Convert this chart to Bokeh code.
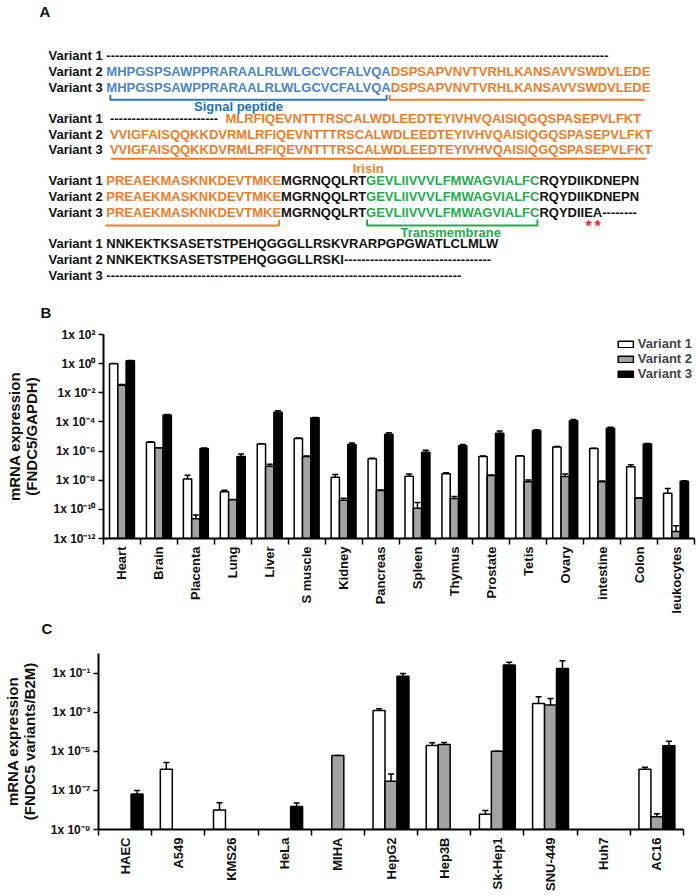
import math
from bokeh.plotting import figure
from bokeh.layouts import column
from bokeh.models import (Range1d, FixedTicker, ColumnDataSource, Whisker, TeeHead,
                          Legend, LegendItem)
from bokeh.core.properties import value
from bokeh.embed import file_html
from bokeh.resources import INLINE

FONT = "Liberation Sans"
BLACK = "#111111"
BLUE_TXT = "#4c86c8"
BLUE = "#2a78cc"
ORANGE = "#ee7d2b"
GREEN = "#1fae4b"
GRAY = "#a2a2a2"

# ---------------- Panel A data (sequence alignment) ----------------
variants = ["Variant 1", "Variant 2", "Variant 3"]
seq_signal = "MHPGSPSAWPPRARAALRLWLGCVCFALVQA"
seq_nterm = "DSPSAPVNVTVRHLKANSAVVSWDVLEDE"
seq_irisin_a = "VVIGFAISQQKKDVR"
seq_irisin_b = "MLRFIQEVNTTTRSCALWDLEEDTEYIVHVQAISIQGQSPASEPVLFKT"
seq_irisin_c = "PREAEKMASKNKDEVTMKE"
seq_link = "MGRNQQLRT"
seq_tm = "GEVLIIVVVLFMWAGVIALFC"
seq_ct12 = "RQYDIIKDNEPN"
seq_ct3 = "RQYDIIEA"
seq_tail1 = "NNKEKTKSASETSTPEHQGGGLLRSKVRARPGPGWATLCLMLW"
seq_tail2 = "NNKEKTKSASETSTPEHQGGGLLRSKI"
gap_b1_v1 = 116
gap_b2_v1 = 25
gap_b3_v3 = 8
gap_b4_v2 = 34
gap_b4_v3 = 82
domain_labels = ["Signal peptide", "Irisin", "Transmembrane"]

# ---------------- Panel B data (tissues) ----------------
tissues = ["Heart", "Brain", "Placenta", "Lung", "Liver", "S muscle", "Kidney", "Pancreas",
           "Spleen", "Thymus", "Prostate", "Tetis", "Ovary", "intestine", "Colon", "leukocytes"]
b_v1 = [0.98, 4.0e-6, 1.2e-8, 1.6e-9, 3.0e-6, 7.4e-6, 1.6e-8, 3.0e-7,
        1.9e-8, 2.8e-8, 4.3e-7, 4.5e-7, 1.9e-6, 1.5e-6, 8.5e-8, 1.3e-9]
b_v2 = [0.033, 1.6e-6, 2.3e-11, 4.5e-10, 9.0e-8, 4.3e-7, 4.2e-10, 2.0e-9,
        1.2e-10, 5.5e-10, 2.1e-8, 8.0e-9, 1.8e-8, 8.0e-9, 5.8e-10, 3.0e-12]
b_v3 = [1.55, 3.0e-4, 1.5e-6, 4.3e-7, 4.7e-4, 1.9e-4, 2.8e-6, 1.4e-5,
        8.3e-7, 2.3e-6, 1.7e-5, 2.6e-5, 1.2e-4, 3.7e-5, 3.0e-6, 8.5e-9]
b_e1 = [0.046, 2.9e-7, 1.0e-8, 4.6e-10, 1.4e-7, 3.5e-7, 8.2e-9, 2.2e-8,
        7.2e-9, 4.9e-9, 2.0e-8, 3.2e-8, 1.4e-7, 7.0e-8, 3.2e-8, 1.4e-9]
b_e2 = [4.0e-3, 1.2e-7, 1.8e-11, 3.2e-11, 3.4e-8, 2.0e-8, 1.6e-10, 1.4e-10,
        1.8e-10, 2.1e-10, 1.5e-9, 2.3e-9, 9.2e-9, 9.8e-10, 4.2e-11, 4.5e-12]
b_e3 = [0.11, 2.2e-5, 1.1e-7, 1.9e-7, 1.1e-4, 1.4e-5, 8.1e-7, 4.1e-6,
        3.2e-7, 5.3e-7, 6.5e-6, 3.2e-6, 2.8e-5, 6.5e-6, 3.7e-7, 6.1e-10]
b_ticks = [1e2, 1e0, 1e-2, 1e-4, 1e-6, 1e-8, 1e-10, 1e-12]
b_ylabel = "mRNA expression\n(FNDC5/GAPDH)"

# ---------------- Panel C data (cell lines) ----------------
cells = ["HAEC", "A549", "KMS26", "HeLa", "MIHA", "HepG2", "Hep3B", "Sk-Hep1", "SNU-449", "Huh7", "AC16"]
c_v1 = [None, 1.2e-6, 1.0e-8, None, None, 1.2e-3, 1.95e-5, 6.0e-9, 2.8e-3, None, 1.2e-6]
c_v2 = [None, None, None, None, 6.0e-6, 2.9e-7, 2.2e-5, 1.0e-5, 2.3e-3, None, 4.5e-9]
c_v3 = [6.6e-8, None, None, 1.5e-8, None, 0.068, None, 0.26, 0.17, None, 1.9e-5]
c_e1 = [0, 1.5e-6, 1.3e-8, 0, 0, 3.1e-4, 8.0e-6, 3.3e-9, 3.3e-3, 0, 3.1e-7]
c_e2 = [0, 0, 0, 0, 1.0e-7, 3.9e-7, 5.7e-6, 1.0e-7, 2.7e-3, 0, 1.9e-9]
c_e3 = [3.4e-8, 0, 0, 7.7e-9, 0, 0.026, 0, 0.1, 0.25, 0, 1.4e-5]
c_ticks = [1e-1, 1e-3, 1e-5, 1e-7, 1e-9]
c_ylabel = "mRNA expression\n(FNDC5 variants/B2M)"

# ---------------- helpers ----------------
ADV = {"A": 722, "B": 722, "C": 722, "D": 722, "E": 667, "F": 611, "G": 778, "H": 722,
       "I": 278, "J": 556, "K": 722, "L": 611, "M": 833, "N": 722, "O": 778, "P": 667,
       "Q": 778, "R": 722, "S": 667, "T": 611, "U": 722, "V": 667, "W": 944, "X": 667,
       "Y": 667, "Z": 611, "-": 333, " ": 278, "a": 556, "r": 389, "i": 278, "n": 611,
       "t": 333, "1": 556, "2": 556, "3": 556}
# approximate kerning pairs of Arial/Liberation Sans Bold (1/1000 em)
KERN = {"AT": -74, "AV": -74, "AW": -55, "AY": -74, "FA": -55, "LT": -74, "LV": -74,
        "LW": -55, "LY": -74, "PA": -74, "RT": -18, "RV": -37, "RW": -37, "RY": -37,
        "TA": -74, "VA": -74, "WA": -55, "YA": -74, "Va": -55}
SEQ_SIZE = 13
TXT_DY = -5  # text baseline correction for the svg text box


def tw(s, size=SEQ_SIZE):
    units = sum(ADV.get(ch, 600) for ch in s)
    units += sum(KERN.get(s[i:i + 2], 0) for i in range(len(s) - 1))
    return units * size / 1000.0


SUP = str.maketrans("0123456789-", "⁰¹²³⁴⁵⁶⁷⁸⁹⁻")


def sci(v):
    e = int(round(math.log10(v)))
    return "1x 10" + str(e).translate(SUP)


def no_align(p):
    if "frame_align" in p.properties():
        p.frame_align = False


def blank_fig(height, y_top):
    p = figure(width=697, height=height, x_range=Range1d(0, 697),
               y_range=Range1d(y_top + height, y_top), output_backend="svg",
               toolbar_location=None, x_axis_location=None, y_axis_location=None,
               min_border=0, min_border_left=0, min_border_right=0, min_border_top=0,
               min_border_bottom=0, outline_line_color=None)
    no_align(p)
    p.xgrid.visible = False
    p.ygrid.visible = False
    return p


# ---------------- Panel A ----------------
blocks = [
    [[("-" * gap_b1_v1, BLACK)],
     [(seq_signal, BLUE_TXT), (seq_nterm, ORANGE)],
     [(seq_signal, BLUE_TXT), (seq_nterm, ORANGE)]],
    [[("-" * gap_b2_v1 + "  ", BLACK), (seq_irisin_b, ORANGE)],
     [(seq_irisin_a + seq_irisin_b, ORANGE)],
     [(seq_irisin_a + seq_irisin_b, ORANGE)]],
    [[(seq_irisin_c, ORANGE), (seq_link, BLACK), (seq_tm, GREEN), (seq_ct12, BLACK)],
     [(seq_irisin_c, ORANGE), (seq_link, BLACK), (seq_tm, GREEN), (seq_ct12, BLACK)],
     [(seq_irisin_c, ORANGE), (seq_link, BLACK), (seq_tm, GREEN), (seq_ct3, BLACK),
      ("-" * gap_b3_v3, BLACK)]],
    [[(seq_tail1, BLACK)],
     [(seq_tail2, BLACK), ("-" * gap_b4_v2, BLACK)],
     [("-" * gap_b4_v3, BLACK)]],
]
block_baselines = [[60, 76, 91.7], [123.3, 139, 154.3], [185, 200.7, 216.7], [247.7, 264, 280]]
block_sep = [" ", "  ", " ", " "]
LABEL_X = 48

tx, ty, tt, tc = [], [], [], []
extents = []
for b, rows in enumerate(blocks):
    ext_b = []
    for r, segs in enumerate(rows):
        y = block_baselines[b][r] + TXT_DY
        lab = variants[r] + block_sep[b]
        tx.append(LABEL_X); ty.append(y); tt.append(lab); tc.append(BLACK)
        x = LABEL_X + tw(lab)
        ext_r = []
        for s, col in segs:
            tx.append(x); ty.append(y); tt.append(s); tc.append(col)
            ext_r.append((x, x + tw(s)))
            x += tw(s)
        ext_b.append(ext_r)
    extents.append(ext_b)

A_H = 287
pa = blank_fig(A_H, 0)
pa.text(x="x", y="y", text="text", text_color="color",
        source=ColumnDataSource(dict(x=tx, y=ty, text=tt, color=tc)),
        text_font=value(FONT), text_font_style="bold", text_font_size="13px",
        text_baseline="alphabetic", text_align="left")

# brackets
(s0, s1), (n0, n1) = extents[0][2]
(i0, i1), = extents[1][2]
(c0, c1), _, (g0, g1), _, _ = extents[2][2]
bx = [[s0 + 4, s0 + 4, s1 - 4, s1 - 4],
      [n0 - 1, n0 - 1, n1 - 6],
      [i0 + 1, i1 - 6],
      [c0 - 1, c1 - 2, c1 - 2],
      [g0 + 1, g0 + 1, g1 - 2, g1 - 2]]
by = [[94.5, 99.3, 99.3, 94.5],
      [94.5, 99.3, 99.3],
      [158.3, 158.3],
      [225, 225, 219.5],
      [219, 225, 225, 219]]
bc = [BLUE, ORANGE, ORANGE, ORANGE, GREEN]
pa.multi_line(xs=bx, ys=by, line_color=bc, line_width=2)

pa.text(x=[(s0 + s1) / 2 - 10, 367.7, (g0 + g1) / 2 - 2],
        y=[110.5 + TXT_DY, 172.5 + TXT_DY, 237 + TXT_DY],
        text=domain_labels, text_color=["#2271c3", ORANGE, GREEN],
        text_font=value(FONT), text_font_style="bold", text_font_size="13px",
        text_baseline="alphabetic", text_align="center")

# red stars under E and A
ct3_x = extents[2][2][3][0]
star_x = [ct3_x + tw("RQYDII") + tw("E") / 2, ct3_x + tw("RQYDIIE") + tw("A") / 2]
pa.scatter(x=star_x, y=[222.7, 222.7], marker="star", size=6, color="#ff2020")

pa.text(x=[39], y=[16 + TXT_DY], text=["A"], text_font=value(FONT), text_font_style="bold",
        text_font_size="15px", text_baseline="alphabetic", text_color=BLACK)


# ---------------- bar panels ----------------
def bar_panel(cats, series, errors, ticks, y_lo, y_hi, height, borders, ylabel, cat_size):
    n = len(cats)
    bl, br, bt, bb = borders
    p = figure(width=697, height=height, x_range=Range1d(0, n), y_range=Range1d(y_lo, y_hi),
               y_axis_type="log", output_backend="svg", toolbar_location=None,
               min_border_left=bl, min_border_right=br, min_border_top=bt, min_border_bottom=bb,
               outline_line_color=None)
    no_align(p)
    p.xgrid.visible = False
    p.ygrid.visible = False
    fills = ["white", GRAY, "black"]
    offs = [-0.225, 0.0, 0.225]
    rends = []
    for k in range(3):
        xs, tops, ups = [], [], []
        for i, (v, e) in enumerate(zip(series[k], errors[k])):
            if v is None:
                continue
            xs.append(i + 0.5 + offs[k]); tops.append(v); ups.append(v + e)
        src = ColumnDataSource(dict(x=xs, top=tops, up=ups))
        p.add_layout(Whisker(source=src, base="x", lower="top", upper="up", dimension="height",
                             line_color="black", line_width=1.5,
                             upper_head=TeeHead(size=6, line_color="black", line_width=1.5),
                             lower_head=None))
        r = p.vbar(x="x", top="top", bottom=y_lo, width=0.225, source=src,
                   fill_color=fills[k], line_color="black", line_width=1.5)
        rends.append(r)

    xa = p.xaxis[0]
    xa.ticker = FixedTicker(ticks=[i + 0.5 for i in range(n)], minor_ticks=list(range(n + 1)))
    xa.major_label_overrides = {i + 0.5: c for i, c in enumerate(cats)}
    xa.major_label_orientation = math.pi / 2
    xa.major_tick_line_color = None
    xa.major_tick_out = 6
    xa.major_tick_in = 0
    xa.minor_tick_line_color = "black"
    xa.minor_tick_line_width = 1.5
    xa.minor_tick_out = 6
    xa.minor_tick_in = 0
    xa.axis_line_width = 2
    xa.axis_line_color = "black"
    xa.major_label_standoff = 2
    xa.major_label_text_font = FONT
    xa.major_label_text_font_style = "bold"
    xa.major_label_text_font_size = cat_size
    xa.major_label_text_color = BLACK

    ya = p.yaxis[0]
    ya.ticker = FixedTicker(ticks=ticks, minor_ticks=[])
    ya.major_label_overrides = {t: sci(t) for t in ticks}
    ya.minor_tick_line_color = None
    ya.major_tick_out = 5
    ya.major_tick_in = 0
    ya.major_tick_line_width = 1.5
    ya.axis_line_width = 2
    ya.axis_line_color = "black"
    ya.major_label_standoff = 3
    ya.major_label_text_font = FONT
    ya.major_label_text_font_style = "bold"
    ya.major_label_text_font_size = "12px"
    ya.major_label_text_color = BLACK
    ya.axis_label = ylabel
    ya.axis_label_text_font = FONT
    ya.axis_label_text_font_style = "bold"
    ya.axis_label_text_font_size = "15px"
    ya.axis_label_text_line_height = 1.0
    ya.axis_label_standoff = 10
    ya.axis_label_text_color = BLACK
    return p, rends


def style_letter(p, letter, dx, standoff):
    p.title.text = letter
    p.title.align = "left"
    p.title.offset = dx
    p.title.standoff = standoff
    p.title.text_font = FONT
    p.title.text_font_style = "bold"
    p.title.text_font_size = "15px"
    p.title.text_color = BLACK


# B: page y 287 .. 616
pb, rb = bar_panel(tissues, [b_v1, b_v2, b_v3], [b_e1, b_e2, b_e3], b_ticks, 1e-12, 1e2,
                   329, (103, 3, 47, 75), b_ylabel, "13px")
style_letter(pb, "B", -63, 28)
legend = Legend(items=[LegendItem(label=variants[k], renderers=[rb[k]]) for k in range(3)],
                location="top_right", orientation="vertical", padding=0, margin=2, spacing=0,
                glyph_width=19, glyph_height=8, label_height=8, label_standoff=3,
                label_text_font=FONT, label_text_font_size="13px", label_text_font_style="bold",
                label_text_line_height=0.8, border_line_color=None, background_fill_alpha=0)
pb.add_layout(legend)

# letter strip for C: page y 616 .. 638
pl = blank_fig(22, 616)
pl.text(x=[41], y=[632.5 + TXT_DY], text=["C"], text_font=value(FONT), text_font_style="bold",
        text_font_size="15px", text_baseline="alphabetic", text_color=BLACK)

# C: page y 638 .. 895
pc, rc = bar_panel(cells, [c_v1, c_v2, c_v3], [c_e1, c_e2, c_e3], c_ticks, 1e-9, 1e0,
                   257, (98, 14, 15, 66), c_ylabel, "13px")

layout = column(pa, pb, pl, pc)
open("out.html", "w").write(file_html(layout, INLINE))
